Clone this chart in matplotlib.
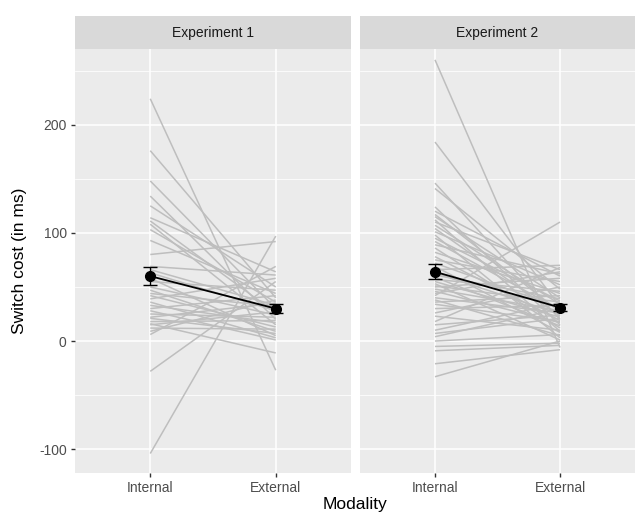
import matplotlib
matplotlib.use("Agg")
import matplotlib.pyplot as plt
import numpy as np

plt.rcParams['font.family'] = ['Liberation Sans', 'DejaVu Sans']
plt.rcParams['axes.unicode_minus'] = False

# ---- data ----
conditions = ["Internal", "External"]
panels = ["Experiment 1", "Experiment 2"]

exp1_internal = [224, 176, 148, 134, 125, 114, 111, 108, 103, 93, 80, 69, 66, 63, 58,
                 55, 50, 47, 44, 42, 39, 36, 33, 30, 28, 25, 22, 21, 18, 16, 15, 12,
                 9, 6, -28, -104]
exp1_external = [-27, 40, 30, 20, 50, 64, 26, 15, 36, 44, 92, 61, 33, 28, 5,
                 47, 24, 9, 32, 13, 58, 3, 17, 42, 1, 22, 35, 7, 19, -11, 27, 11,
                 38, 69, 55, 97]

exp2_internal = [260, 184, 146, 141, 124, 120, 117, 115, 112, 110, 107, 104, 101, 98,
                 95, 92, 89, 86, 82, 78, 75, 72, 69, 66, 63, 61, 59, 57, 55, 53, 51,
                 50, 48, 46, 44, 42, 40, 38, 36, 34, 30, 26, 23, 18, 15, 10, 7, 4, 0,
                 -5, -9, -21, -33]
exp2_external = [-6, 32, 20, 48, 15, 60, 27, 40, 9, 66, 34, 23, 52, 3, 37, 29, 62,
                 12, 44, 19, 55, 31, 8, 70, 25, 39, 14, 46, 22, 1, 36, 58, 28, 17,
                 64, 110, 26, 5, 42, 18, 33, 50, 10, 68, 24, 35, 21, 30, 6, -2, -4,
                 -8, 0]

exp1_means = [60, 30]
exp1_err = [8.5, 4]
exp2_means = [64, 31]
exp2_err = [7, 3.5]

y_ticks = [-100, 0, 100, 200]
y_minor = [-50, 50, 150, 250]

# ---- layout ----
W, H = 637, 514
fig = plt.figure(figsize=(W / 100, H / 100), dpi=100)

panel_px = [(75, 351), (360, 635)]
top_px, bot_px = 49, 473
strip_h = 33

data = [
    (exp1_internal, exp1_external, exp1_means, exp1_err),
    (exp2_internal, exp2_external, exp2_means, exp2_err),
]

xpos = np.arange(1, len(conditions) + 1)

for i, ((l, r), (vin, vex, mns, errs)) in enumerate(zip(panel_px, data)):
    ax = fig.add_axes([l / W, 1 - bot_px / H, (r - l) / W, (bot_px - top_px) / H])
    ax.set_facecolor('#EBEBEB')
    for s in ax.spines.values():
        s.set_visible(False)
    ax.set_xlim(0.4, 2.6)
    ax.set_ylim(-122, 270)
    ax.set_xticks(xpos)
    ax.set_xticklabels(conditions)
    ax.set_yticks(y_ticks)
    ax.set_yticks(y_minor, minor=True)
    ax.grid(True, which='major', color='white', linewidth=1.1)
    ax.grid(True, which='minor', axis='y', color='white', linewidth=0.55)
    ax.set_axisbelow(True)
    ax.tick_params(axis='both', which='major', colors='#333333', length=3, width=1,
                   labelsize=10, labelcolor='#4D4D4D', pad=3)
    ax.tick_params(axis='y', which='minor', length=0)
    if i == 0:
        ax.set_yticklabels([str(v) for v in y_ticks])
    else:
        ax.tick_params(axis='y', which='major', length=0, labelleft=False)

    for a, b in zip(vin, vex):
        ax.plot(xpos, [a, b], color='#BEBEBE', linewidth=1.1, solid_capstyle='butt', zorder=2)
    ax.plot(xpos, mns, color='black', linewidth=1.3, zorder=3)
    ax.errorbar(xpos, mns, yerr=errs, fmt='o', color='black', markersize=7,
                elinewidth=1.0, capsize=5, capthick=1.0, zorder=4)

    sax = fig.add_axes([l / W, 1 - top_px / H, (r - l) / W, strip_h / H])
    sax.set_facecolor('#D9D9D9')
    for s in sax.spines.values():
        s.set_visible(False)
    sax.set_xticks([])
    sax.set_yticks([])
    sax.text(0.5, 0.5, panels[i], ha='center', va='center', fontsize=10,
             color='#1A1A1A', transform=sax.transAxes)

fig.text(((panel_px[0][0] + panel_px[1][1]) / 2) / W, 1 - 505 / H, "Modality",
         ha='center', va='center', fontsize=12.5, color='black')
fig.text(20 / W, 1 - ((top_px + bot_px) / 2) / H, "Switch cost (in ms)",
         ha='center', va='center', rotation=90, fontsize=12.5, color='black')

fig.savefig("out.png", dpi=100, facecolor='white')
